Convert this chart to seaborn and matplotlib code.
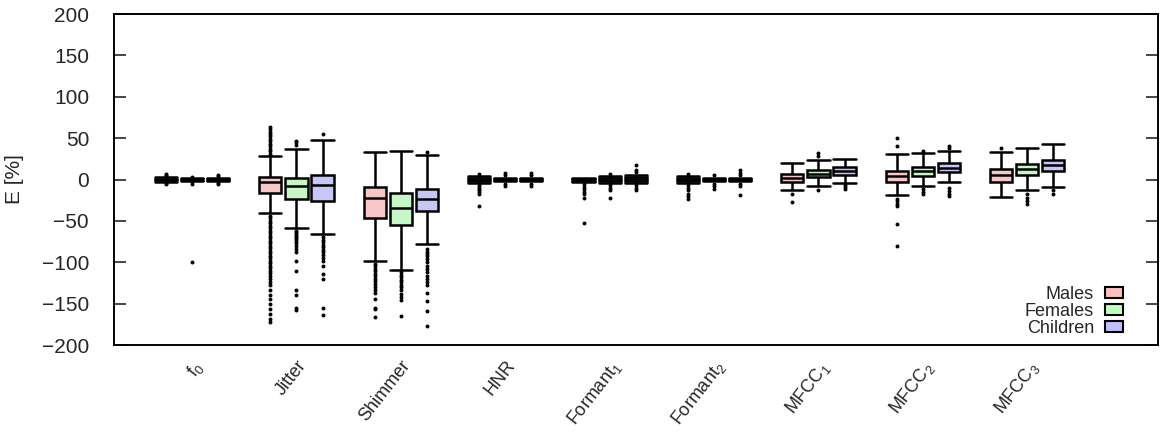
import matplotlib
matplotlib.use("Agg")
import matplotlib.pyplot as plt
from matplotlib.patches import Patch
import pandas as pd
import seaborn as sns

# Categories
features = ['f0', 'Jitter', 'Shimmer', 'HNR', 'Formant1', 'Formant2',
            'MFCC1', 'MFCC2', 'MFCC3']
feature_labels = ['f$_0$', 'Jitter', 'Shimmer', 'HNR', 'Formant$_1$',
                  'Formant$_2$', 'MFCC$_1$', 'MFCC$_2$', 'MFCC$_3$']
groups = ['Males', 'Females', 'Children']
colors = ['#ffbfbf', '#bfffbf', '#bfbfff']

# Box statistics (E [%]), one value per feature
males_whislo = [-2.5, -41, -98, -4, -3, -4, -13, -19, -21]
males_q1 = [-1, -16, -46, -2, -1.5, -2, -3.5, -3, -3]
males_med = [0, -3, -22, 0, 0, 0, 1.5, 4, 6]
males_q3 = [1, 3, -9, 2, 1, 2, 7, 10, 13]
males_whishi = [2.5, 28, 33, 4, 2, 4, 20, 31, 33]

females_whislo = [-1.5, -59, -109, -2, -4, -2, -8, -8, -13]
females_q1 = [-0.5, -24, -55, -1, -2, -1, 3, 4, 6]
females_med = [0, -8, -34, 0, 0, 0, 7, 10, 13]
females_q3 = [0.5, 2, -16, 1, 2, 1, 12, 15, 19]
females_whishi = [1.5, 37, 34, 2, 4, 2, 23, 32, 38]

children_whislo = [-2, -66, -78, -2, -4, -2, -4, -3, -9]
children_q1 = [-0.7, -26, -38, -1, -2, -1, 6, 9, 10]
children_med = [0, -7, -23, 0, 1, 0, 10.5, 14, 18]
children_q3 = [0.7, 5, -11, 1, 3, 1, 15, 20, 24]
children_whishi = [2, 48, 30, 2, 6, 2, 25, 34, 43]

# Outliers per feature
males_fliers = [
    [4, 5.5, 7, -4, -6],
    [31, 34, 37, 40, 43, 46, 49, 52, 55, 58, 61, 64,
     -44, -47, -50, -53, -56, -59, -62, -65, -68, -71, -74, -77, -80, -83,
     -86, -89, -92, -95, -98, -101, -104, -107, -110, -113, -116, -120,
     -124, -128, -134, -139, -145, -150, -157, -162, -168, -172],
    [-102, -105, -108, -111, -114, -117, -120, -123, -126, -130, -134,
     -137, -145, -155, -157, -166],
    [7, -7, -9, -11, -13, -15, -18, -32],
    [-6, -9, -12, -15, -18, -22, -52],
    [7, -7, -10, -13, -18, -20, -23],
    [-18, -27],
    [41, 50, -23, -26, -29, -32, -54, -80],
    [38],
]
females_fliers = [
    [3, -3, -5, -100],
    [42, 45, 47, -62, -64, -66, -68, -70, -72, -74, -77, -80, -84, -88,
     -98, -110, -134, -140, -155, -158],
    [-112, -115, -118, -121, -124, -127, -130, -134, -138, -142, -146, -165],
    [5, 8, -5, -8],
    [7, -7, -10, -13, -22],
    [5, -5, -8, -11],
    [28, 32, -13],
    [35, -12, -15, -18],
    [-18, -22, -26, -30],
]
children_fliers = [
    [4, 5, -4, -6],
    [55, -70, -73, -76, -79, -82, -85, -88, -91, -95, -99, -104, -114,
     -120, -155, -164],
    [33, -84, -87, -90, -93, -96, -100, -104, -108, -112, -116, -120, -124,
     -128, -137, -147, -159, -177],
    [5, 8, -5, -8],
    [9, 12, 17, -7, -10, -13],
    [5, 8, 11, -5, -8, -19],
    [-7, -9, -11],
    [38, 41, -10, -14, -17, -20],
    [-13, -17],
]

stats = {
    'Males': [males_whislo, males_q1, males_med, males_q3, males_whishi],
    'Females': [females_whislo, females_q1, females_med, females_q3, females_whishi],
    'Children': [children_whislo, children_q1, children_med, children_q3,
                 children_whishi],
}
fliers = {'Males': males_fliers, 'Females': females_fliers,
          'Children': children_fliers}

# Five sorted values per box give exactly these quartiles and whisker ends
box_rows = []
for g in groups:
    for i, f in enumerate(features):
        for s in stats[g]:
            box_rows.append({'feature': f, 'group': g, 'E': s[i]})
df_box = pd.DataFrame(box_rows)

hue_step = 0.25
flier_rows = []
for k, g in enumerate(groups):
    for i, vals in enumerate(fliers[g]):
        for v in vals:
            flier_rows.append({'pos': i + (k - 1) * hue_step, 'E': v})
df_fl = pd.DataFrame(flier_rows)

sns.set_theme(style='white')
plt.rcParams['font.family'] = ['Liberation Sans', 'DejaVu Sans']
plt.rcParams['mathtext.fontset'] = 'custom'
plt.rcParams['mathtext.rm'] = 'Liberation Sans'
plt.rcParams['mathtext.default'] = 'regular'

fig = plt.figure(figsize=(11.65, 4.45), dpi=100)
ax = fig.add_axes([0.0979, 0.2247, 0.8961, 0.7438])

sns.boxplot(
    data=df_box, x='feature', y='E', hue='group', order=features,
    hue_order=groups, palette=colors, whis=(0, 100), width=0.75, gap=0.15,
    linecolor='black', linewidth=1.8, capwidths=0.2125, legend=False, ax=ax
)
sns.scatterplot(
    data=df_fl, x='pos', y='E', color='black', s=8, linewidth=0,
    legend=False, ax=ax
)

ax.set_xlim(-0.747, 9.253)
ax.set_ylim(-200, 200)
ax.set_yticks(range(-200, 201, 50))
ax.set_xticks(range(len(features)))
ax.set_xticklabels(feature_labels, rotation=52, ha='right',
                   rotation_mode='anchor', fontsize=13)
ax.tick_params(axis='x', length=0, pad=9)
ax.tick_params(axis='y', direction='in', length=8.5, width=1.2, left=True,
               right=True, labelsize=15, pad=18)
ax.set_xlabel('')
ax.set_ylabel('E [%]', fontsize=15, labelpad=13)
for sp in ax.spines.values():
    sp.set_linewidth(1.4)
    sp.set_color('black')

handles = [Patch(facecolor=c, edgecolor='black', linewidth=1.5) for c in colors]
ax.legend(handles, groups, loc='lower right', bbox_to_anchor=(0.982, -0.025),
          frameon=False, markerfirst=False, fontsize=13, handlelength=1.0,
          handleheight=0.5, labelspacing=0.0, handletextpad=0.6)

fig.savefig('out.png', dpi=100)
